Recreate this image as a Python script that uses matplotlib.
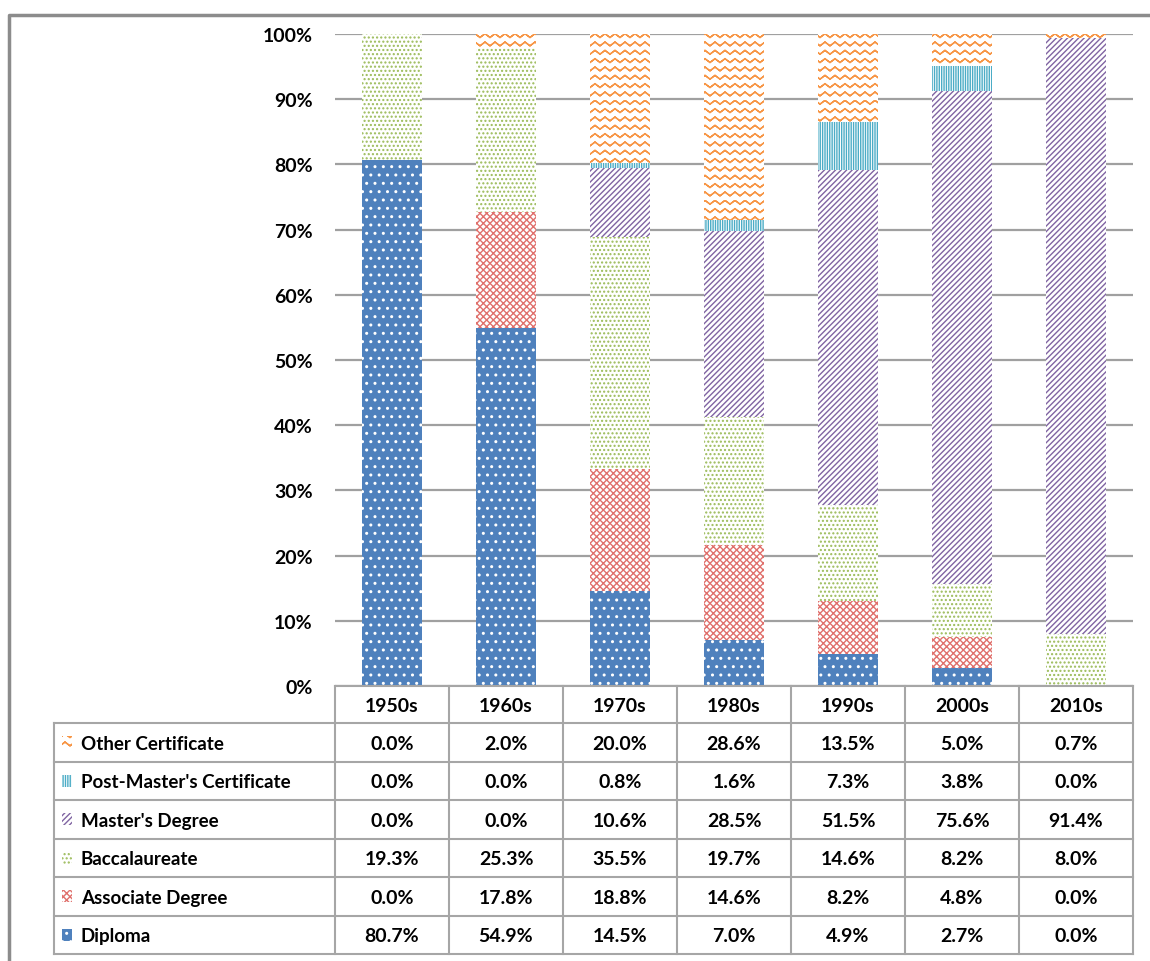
import warnings
import numpy as np
import matplotlib
matplotlib.use("Agg")
import matplotlib.pyplot as plt
import matplotlib.hatch as mhatch
from matplotlib.path import Path
from matplotlib.patches import Rectangle
from matplotlib.transforms import blended_transform_factory

warnings.filterwarnings("ignore")

# ── data ──────────────────────────────────────────────
decades = ["1950s", "1960s", "1970s", "1980s", "1990s", "2000s", "2010s"]
diploma = [80.7, 54.9, 14.5, 7.0, 4.9, 2.7, 0.0]
associate = [0.0, 17.8, 18.8, 14.6, 8.2, 4.8, 0.0]
baccalaureate = [19.3, 25.3, 35.5, 19.7, 14.6, 8.2, 8.0]
masters = [0.0, 0.0, 10.6, 28.5, 51.5, 75.6, 91.4]
post_masters = [0.0, 0.0, 0.8, 1.6, 7.3, 3.8, 0.0]
other_cert = [0.0, 2.0, 20.0, 28.6, 13.5, 5.0, 0.7]
y_ticks = [0, 10, 20, 30, 40, 50, 60, 70, 80, 90, 100]


# 지그재그 해치 (Other Certificate용) — matplotlib 기본 해치에 없음.
# Agg는 해치 경로를 채우기도 하므로, 갔다가 같은 길로 되돌아와 면적 0으로 만든다.
class ZigzagHatch(mhatch.HatchPatternBase):
    def __init__(self, hatch, density):
        self.num_lines = int(hatch.count('z') * density)
        self.periods = 10
        self.pts = self.periods * 2 + 1
        self.num_vertices = self.num_lines * self.pts * 2

    def set_vertices_and_codes(self, vertices, codes):
        ys = (np.arange(self.num_lines) + 0.5) / max(self.num_lines, 1)
        xs = np.linspace(0, 1, self.pts)
        amp = np.where(np.arange(self.pts) % 2 == 1, 0.038, 0.0)
        n = self.pts * 2
        for i, y in enumerate(ys):
            s = slice(i * n, (i + 1) * n)
            vertices[s, 0] = np.concatenate([xs, xs[::-1]])
            vertices[s, 1] = np.concatenate([y + amp, (y + amp)[::-1]])
            codes[s] = Path.LINETO
            codes[i * n] = Path.MOVETO


mhatch._hatch_types.append(ZigzagHatch)

plt.rcParams['font.family'] = ['Lato', 'DejaVu Sans']
plt.rcParams['hatch.linewidth'] = 1.0

# (이름, 값, 면색, 해치색, 해치) — 아래에서 위로 쌓는 순서
series = [
    ("Diploma", diploma, "#4F81BD", "white", ".."),
    ("Associate Degree", associate, "white", "#E0706C", "xxxxx"),
    ("Baccalaureate", baccalaureate, "white", "#9BBB59", "...."),
    ("Master's Degree", masters, "white", "#8064A2", "//////"),
    ("Post-Master's Certificate", post_masters, "white", "#4BACC6", "|||||||"),
    ("Other Certificate", other_cert, "white", "#F79646", "zz"),
]

W, H = 1150, 962
fig = plt.figure(figsize=(W / 100, H / 100), dpi=100)

# 바 차트 영역 (픽셀 기준 배치)
L, R, T, B = 335, 1133, 35, 687
ax = fig.add_axes([L / W, 1 - B / H, (R - L) / W, (B - T) / H])
x = np.arange(len(decades))
bottom = np.zeros(len(decades))
for name, vals, fc, hc, hatch in series:
    ax.bar(x, vals, width=0.52, bottom=bottom, color=fc, edgecolor=hc,
           hatch=hatch, linewidth=0, zorder=3)
    bottom += np.array(vals)

ax.set_xlim(-0.5, len(decades) - 0.5)
ax.set_ylim(0, 100)
ax.set_yticks(y_ticks)
ax.set_yticklabels([f"{t}%" for t in y_ticks], fontsize=14, fontweight='bold')
ax.tick_params(axis='y', length=0, pad=16)
ax.set_xticks([])
ax.yaxis.grid(True, color="#A0A0A0", linewidth=1.6, zorder=0)
for sp in ax.spines.values():
    sp.set_visible(False)

# 데이터 테이블 (오버레이 축, 픽셀 좌표)
tab = fig.add_axes([0, 0, 1, 1], facecolor='none')
tab.set_xlim(0, W)
tab.set_ylim(H, 0)
tab.axis('off')
tr = blended_transform_factory(ax.transData, tab.transData)

grid_c = "#A6A6A6"
tbl_left = 54
head_top, head_bot = 687, 724
row_h = 38.5
rows = list(reversed(series))  # 위: Other Certificate ... 아래: Diploma
tbl_bot = head_bot + row_h * len(rows)

# 헤더 셀 (연대)
for i, d in enumerate(decades):
    tab.text(i, (head_top + head_bot) / 2 + 1, d, transform=tr, ha='center',
             va='center', fontsize=14, fontweight='bold')
for i in range(len(decades) + 1):
    tab.plot([i - 0.5, i - 0.5], [head_top, tbl_bot], transform=tr,
             color=grid_c, lw=1.5)
tab.plot([tbl_left, tbl_left], [head_bot, tbl_bot], color=grid_c, lw=1.5)
tab.plot([L, R], [head_top, head_top], color=grid_c, lw=1.5)
for k in range(len(rows) + 1):
    yk = head_bot + row_h * k
    tab.plot([tbl_left, R], [yk, yk], color=grid_c, lw=1.5)

for k, (name, vals, fc, hc, hatch) in enumerate(rows):
    yc = head_bot + row_h * (k + 0.5)
    tab.add_patch(Rectangle((62, yc - 6), 10, 12, facecolor=fc, edgecolor=hc,
                            hatch=hatch, linewidth=0))
    tab.text(81, yc + 1, name, ha='left', va='center', fontsize=13.5,
             fontweight='bold')
    for i, v in enumerate(vals):
        tab.text(i, yc + 1, f"{v:.1f}%", transform=tr, ha='center',
                 va='center', fontsize=14, fontweight='bold')

# 바깥 테두리
tab.plot([9, 9, W], [H, 16, 16], color="#8C8C8C", lw=2.5)

fig.savefig("out.png", dpi=100)
